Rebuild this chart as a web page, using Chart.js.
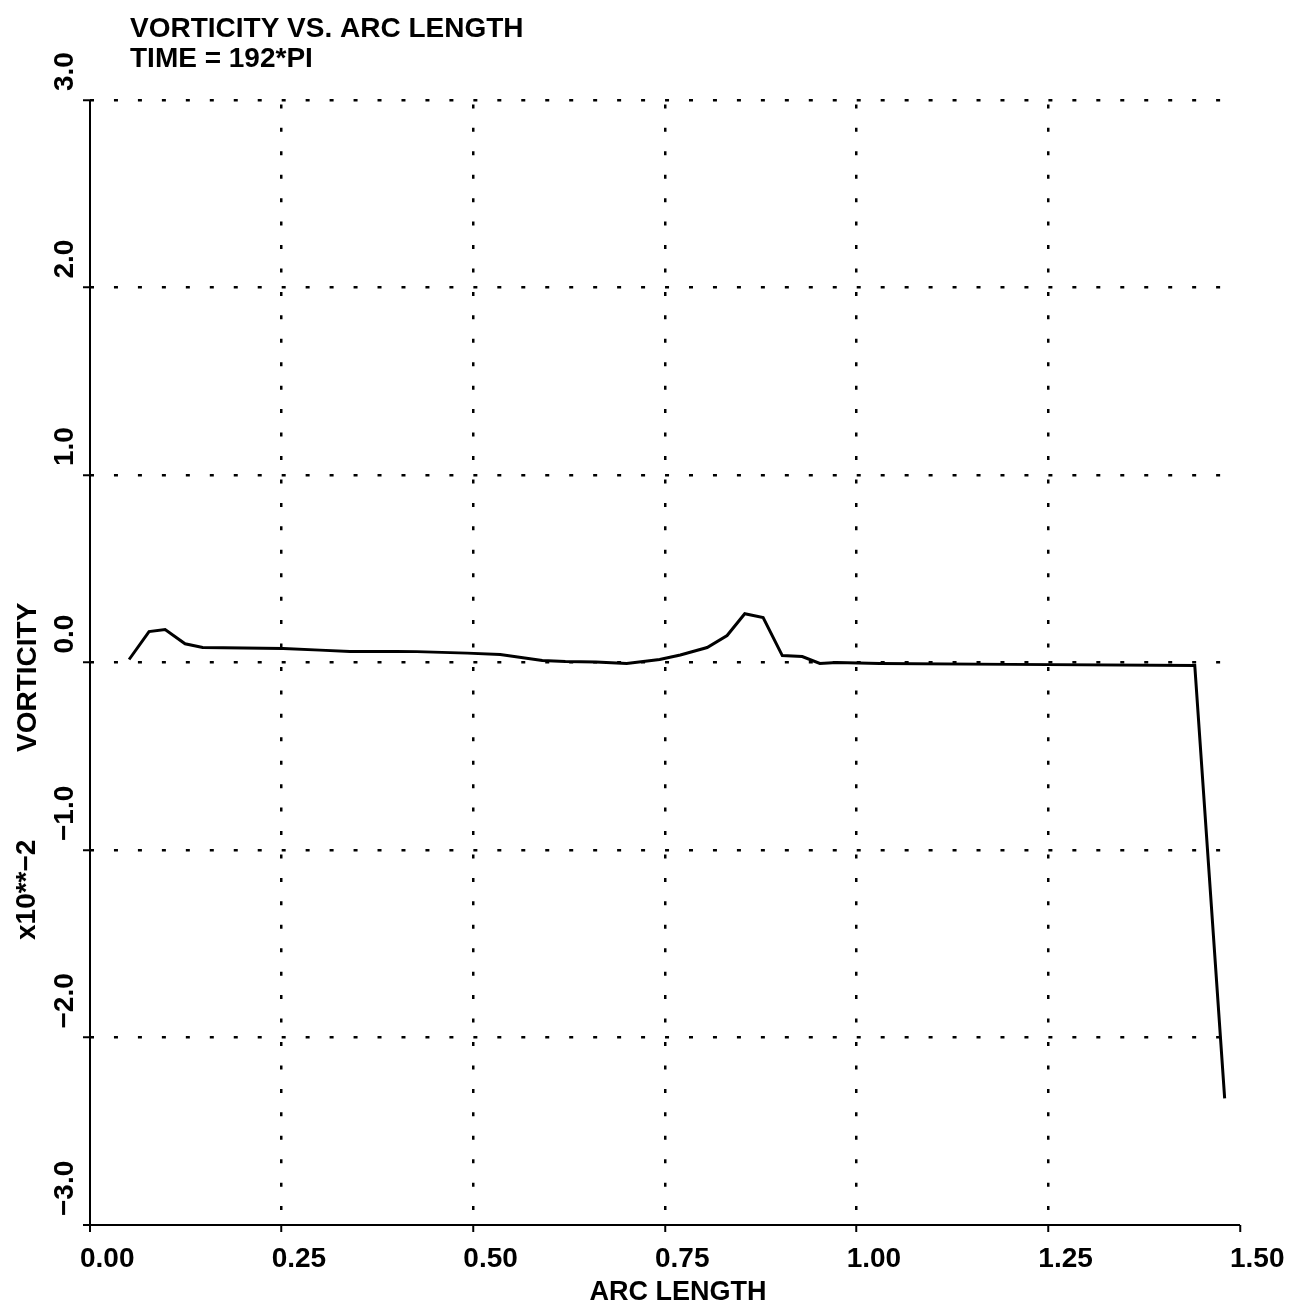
<!DOCTYPE html>
<html>
<head>
<meta charset="utf-8">
<script src="https://cdn.jsdelivr.net/npm/chart.js@4/dist/chart.umd.min.js"></script>
<style>
  html, body { margin: 0; padding: 0; background: #fff; }
  canvas { display: block; }
</style>
</head>
<body>
<canvas id="vortChart" width="1294" height="1307"></canvas>
<script>
// arc length / vorticity (x10**-2)
const arcLength = [0.051, 0.077, 0.098, 0.124, 0.147, 0.20, 0.252, 0.30, 0.339, 0.40, 0.426, 0.492, 0.535, 0.59, 0.62, 0.66, 0.70, 0.743, 0.77, 0.805, 0.831, 0.854, 0.878, 0.903, 0.929, 0.952, 0.974, 1.03, 1.20, 1.441, 1.480];
const vorticity = [0.016, 0.165, 0.176, 0.10, 0.08, 0.077, 0.075, 0.066, 0.059, 0.059, 0.058, 0.05, 0.043, 0.011, 0.005, 0.003, -0.005, 0.016, 0.04, 0.08, 0.144, 0.26, 0.24, 0.037, 0.032, -0.005, 0.0, -0.005, -0.01, -0.016, -2.325];

const xTickLabels = ['0.00', '0.25', '0.50', '0.75', '1.00', '1.25', '1.50'];
const yTickLabels = ['\u22123.0', '\u22122.0', '\u22121.0', '0.0', '1.0', '2.0', '3.0'];

const titleText = 'VORTICITY VS. ARC LENGTH';
const timeText = 'TIME = 192*PI';
const xTitle = 'ARC LENGTH';
const yTitle = 'VORTICITY';
const yScaleNote = 'x10**\u22122';

const FONT = '"Liberation Sans", Arial, Helvetica, sans-serif';

const textPlugin = {
    id: 'oldPlotText',
    afterDraw(chart) {
        const ctx = chart.ctx;
        const xs = chart.scales.x;
        const ys = chart.scales.y;
        ctx.save();
        ctx.fillStyle = '#000';
        ctx.textBaseline = 'alphabetic';
        ctx.textAlign = 'left';
        ctx.font = 'bold 28px ' + FONT;

        // x tick labels
        xs.ticks.forEach((t, i) => {
            ctx.fillText(xTickLabels[i], xs.getPixelForValue(t.value) - 10, xs.top + 42);
        });

        // y tick labels, rotated
        ys.ticks.forEach((t, i) => {
            ctx.save();
            ctx.translate(ys.right - 17, ys.getPixelForValue(t.value) - 9);
            ctx.rotate(-Math.PI / 2);
            ctx.fillText(yTickLabels[i], 0, 0);
            ctx.restore();
        });

        // titles
        ctx.fillText(titleText, 130, 37);
        ctx.fillText(timeText, 130, 67);

        ctx.font = 'bold 27px ' + FONT;
        ctx.textAlign = 'center';
        ctx.fillText(xTitle, 678, 1300);

        ctx.textAlign = 'left';
        ctx.font = 'bold 28px ' + FONT;
        ctx.save();
        ctx.translate(36, 752);
        ctx.rotate(-Math.PI / 2);
        ctx.fillText(yTitle, 0, 0);
        ctx.restore();

        ctx.save();
        ctx.translate(35, 940);
        ctx.rotate(-Math.PI / 2);
        ctx.fillText(yScaleNote, 0, 0);
        ctx.restore();

        ctx.restore();
    }
};

// the axis itself is the grid line at the scale minimum: keep it solid
const isAxis = (c, min) => c.tick && Math.abs(c.tick.value - min) < 1e-9;

const ctx = document.getElementById('vortChart').getContext('2d');

const vortChart = new Chart(ctx, {
    type: 'line',
    data: {
        datasets: [{
            data: arcLength.map((a, i) => ({ x: a, y: vorticity[i] })),
            borderColor: '#000',
            borderWidth: 3,
            pointRadius: 0,
            tension: 0,
            fill: false
        }]
    },
    options: {
        responsive: false,
        animation: false,
        devicePixelRatio: 1,
        layout: { padding: { left: 83, right: 54, top: 100, bottom: 75 } },
        plugins: {
            legend: { display: false },
            tooltip: { enabled: false },
            title: { display: false }
        },
        scales: {
            x: {
                type: 'linear',
                min: 0,
                max: 1.5,
                ticks: { display: false, stepSize: 0.25 },
                grid: {
                    color: (c) => (c.tick && c.tick.value >= 1.5) ? 'rgba(0,0,0,0)' : '#000',
                    lineWidth: (c) => isAxis(c, 0) ? 2 : 2.5,
                    tickColor: '#000',
                    tickWidth: 2,
                    tickLength: 7
                },
                border: {
                    display: false,
                    dash: (c) => isAxis(c, 0) ? [] : [4, 19.44],
                    dashOffset: 19.04
                }
            },
            y: {
                type: 'linear',
                min: -3,
                max: 3,
                ticks: { display: false, stepSize: 1 },
                grid: {
                    color: '#000',
                    lineWidth: (c) => isAxis(c, -3) ? 2 : 2.5,
                    tickColor: '#000',
                    tickWidth: 2,
                    tickLength: 7
                },
                border: {
                    display: false,
                    dash: (c) => isAxis(c, -3) ? [] : [4, 19.96],
                    dashOffset: 0
                }
            }
        }
    },
    plugins: [textPlugin]
});
</script>
</body>
</html>
